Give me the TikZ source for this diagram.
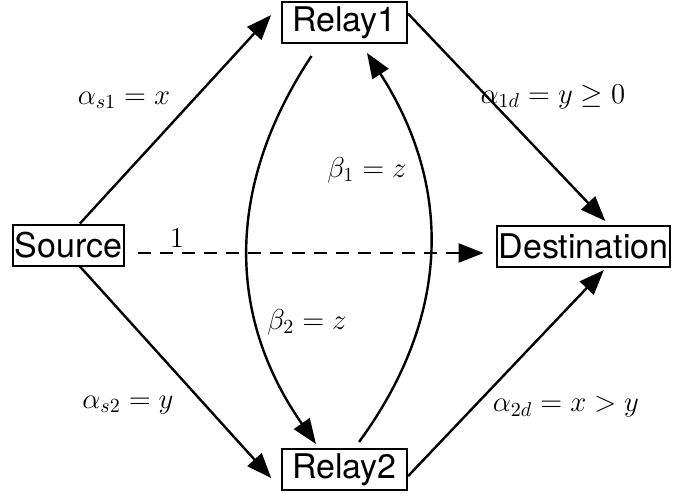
\documentclass[tikz,border=0pt]{standalone}
\usepackage{fontspec}
\setsansfont{TeX Gyre Heros}
\usetikzlibrary{arrows.meta}

\begin{document}
\begin{tikzpicture}[
  x=0.5pt, y=-0.5pt,
  box/.style={
    draw=black, line width=1pt, inner xsep=1pt, inner ysep=0pt,
    minimum height=20.5pt, font=\sffamily\fontsize{17}{20}\selectfont
  },
  relay/.style={box, minimum width=62.5pt},
  lbl/.style={inner sep=0pt, font=\fontsize{14.4}{17}\selectfont},
  arr/.style={-{Triangle[length=12.5pt,width=9.5pt]}, draw=black, line width=1.2pt}
]
  \useasboundingbox (0,0) rectangle (691,493);
  \node[box] (src) at (68.5,245) {Source};
  \node[relay] (r1) at (344.5,22.5) {Relay1};
  \node[relay] (r2) at (344.5,469.5) {Relay2};
  \node[box] (dst) at (583.5,246.5) {Destination};

  \draw[arr, shorten >=7.3pt] (src.62) -- (r1.164);
  \draw[arr, shorten >=7.3pt] (src.-62) -- (r2.197);
  \draw[arr, shorten >=2.75pt] (r1.8) -- (dst.40);
  \draw[arr, shorten >=1.4pt] (r2.-6) -- (dst.-44);
  \draw[arr, dash pattern=on 6.5pt off 4.5pt, shorten <=6.5pt, shorten >=6pt]
    ([yshift=-4pt]src.east) -- ([yshift=-3.25pt]dst.west);
  \draw[arr] ([xshift=-16.5pt,yshift=-6pt]r1.south)
    .. controls (226,185) and (226,315) .. ([xshift=-14.25pt,yshift=2pt]r2.north);
  \draw[arr] ([xshift=7.25pt,yshift=3pt]r2.north)
    .. controls (452,315) and (452,185) .. ([xshift=11.25pt,yshift=-4.5pt]r1.south);

  \node[lbl] (ls1) at (124,100) {$\alpha_{s1} = x$};
  \node[lbl] (l1d) at (553,97) {$\alpha_{1d} = y \geq 0$};
  \node[lbl] (lb1) at (367,170) {$\beta_1 = z$};
  \node[lbl] (lb2) at (307,322) {$\beta_2 = z$};
  \node[lbl] (ls2) at (128,405) {$\alpha_{s2} = y$};
  \node[lbl] (l2d) at (566,407) {$\alpha_{2d} = x > y$};
  \node[lbl] (lone) at (177,238) {$1$};
\end{tikzpicture}
\end{document}
